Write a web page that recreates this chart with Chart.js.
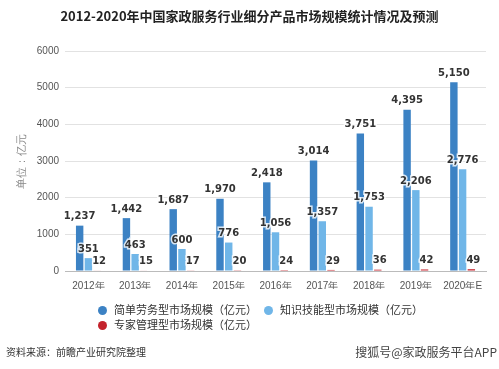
<!DOCTYPE html>
<html>
<head>
<meta charset="utf-8">
<script src="https://cdn.jsdelivr.net/npm/chart.js@4/dist/chart.umd.min.js"></script>
<style>
  html, body { margin: 0; padding: 0; background: #fff; }
  body { width: 499px; height: 369px; position: relative; overflow: hidden;
         font-family: "Noto Sans CJK SC", "Noto Sans", sans-serif; }
  #wrap { position: absolute; left: 0; top: 0; width: 499px; height: 369px; }
  #titulo { position: absolute; left: 0; top: 6px; width: 499px; text-align: center;
            font-size: 13px; font-weight: bold; color: #222; }
  #legenda { position: absolute; left: 98px; top: 301px; font-size: 11px; color: #333; }
  .item { position: absolute; white-space: nowrap; }
  .ponto { display: inline-block; width: 9px; height: 9px; border-radius: 50%;
           margin-right: 7px; vertical-align: -1px; }
  #fonte { position: absolute; left: 6px; top: 344px; font-size: 10px; color: #333; }
  #marca { position: absolute; right: 2px; top: 343px; font-size: 12px; color: #444; }
</style>
</head>
<body>
<div id="wrap"><canvas id="myChart" width="499" height="369"></canvas></div>
<div id="titulo">2012-2020年中国家政服务行业细分产品市场规模统计情况及预测</div>
<div id="legenda"></div>
<div id="fonte">资料来源：前瞻产业研究院整理</div>
<div id="marca">搜狐号@家政服务平台APP</div>
<script>
// Dados do gráfico
const anos = ['2012年', '2013年', '2014年', '2015年', '2016年', '2017年', '2018年', '2019年', '2020年E'];
const simples = [1237, 1442, 1687, 1970, 2418, 3014, 3751, 4395, 5150];
const conhecimento = [351, 463, 600, 776, 1056, 1357, 1753, 2206, 2776];
const especialista = [12, 15, 17, 20, 24, 29, 36, 42, 49];
const nomesSeries = ['简单劳务型市场规模（亿元）', '知识技能型市场规模（亿元）', '专家管理型市场规模（亿元）'];
const cores = ['#3c82c4', '#70b6e8', '#c4232c'];
const ticksY = [0, 1000, 2000, 3000, 4000, 5000, 6000];

// Rótulos de valor acima das barras
const rotulos = {
    id: 'rotulos',
    afterDatasetsDraw(chart) {
        const ctx = chart.ctx;
        ctx.save();
        ctx.font = 'bold 10px "DejaVu Sans", sans-serif';
        ctx.textAlign = 'center';
        ctx.textBaseline = 'bottom';
        ctx.fillStyle = '#333';
        chart.data.datasets.forEach(function (ds, i) {
            const meta = chart.getDatasetMeta(i);
            meta.data.forEach(function (bar, j) {
                const txt = ds.data[j].toLocaleString('en-US');
                const x = bar.x + (i === 2 ? 2 : 0);
                ctx.lineWidth = 3;
                ctx.strokeStyle = 'rgba(255,255,255,0.8)';
                ctx.strokeText(txt, x, bar.y - 4);
                ctx.fillText(txt, x, bar.y - 4);
            });
        });
        ctx.restore();
    }
};

const config = {
    type: 'bar',
    data: {
        labels: anos,
        datasets: [
            { label: nomesSeries[0], data: simples, backgroundColor: cores[0] },
            { label: nomesSeries[1], data: conhecimento, backgroundColor: cores[1] },
            { label: nomesSeries[2], data: especialista, backgroundColor: cores[2] }
        ]
    },
    options: {
        responsive: false,
        animation: false,
        layout: { padding: { left: 15, right: 13, top: 51, bottom: 80 } },
        datasets: { bar: { categoryPercentage: 0.56, barPercentage: 0.85 } },
        plugins: {
            legend: { display: false },
            title: { display: false },
            tooltip: { enabled: false }
        },
        scales: {
            x: {
                grid: { display: false },
                border: { color: '#bbb' },
                ticks: { color: '#555', font: { size: 10 }, padding: 1 },
                afterFit: function (s) { s.height = 18; }
            },
            y: {
                min: 0,
                max: 6000,
                afterBuildTicks: function (s) { s.ticks = ticksY.map(v => ({ value: v })); },
                grid: { color: '#e2e2e2', drawTicks: false },
                border: { display: false },
                ticks: { color: '#555', font: { size: 10 }, padding: 6, callback: v => String(v) },
                title: { display: true, text: '单位：亿元', color: '#888', font: { size: 11 }, padding: 0 },
                afterFit: function (s) { s.width = 50; }
            }
        }
    },
    plugins: [rotulos]
};

new Chart(document.getElementById('myChart').getContext('2d'), config);

// Legenda em HTML
const posicoes = [[0, 0], [166, 0], [0, 15]];
const legenda = document.getElementById('legenda');
nomesSeries.forEach(function (nome, i) {
    const el = document.createElement('div');
    el.className = 'item';
    el.style.left = posicoes[i][0] + 'px';
    el.style.top = posicoes[i][1] + 'px';
    el.innerHTML = '<span class="ponto" style="background:' + cores[i] + '"></span>' + nome;
    legenda.appendChild(el);
});
</script>
</body>
</html>
